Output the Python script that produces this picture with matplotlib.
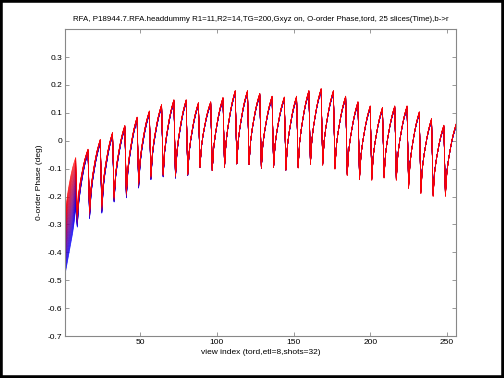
import matplotlib.pyplot as plt
from matplotlib.patches import Rectangle
import numpy as np

# per-shot values (32 shots x 8 echoes = 256 views), red (last slice) reference
peaks = [-0.06, -0.03, 0.005, 0.03, 0.055, 0.085, 0.107, 0.13,
         0.147, 0.147, 0.137, 0.14, 0.155, 0.18, 0.18, 0.17,
         0.16, 0.157, 0.16, 0.18, 0.187, 0.18, 0.16, 0.14,
         0.125, 0.12, 0.125, 0.125, 0.104, 0.08, 0.056, 0.06]
troughs = [-0.30, -0.26, -0.25, -0.23, -0.20, -0.185, -0.15, -0.125,
           -0.12, -0.125, -0.12, -0.095, -0.107, -0.095, -0.083, -0.085,
           -0.098, -0.095, -0.105, -0.098, -0.085, -0.088, -0.102, -0.125,
           -0.14, -0.142, -0.134, -0.142, -0.172, -0.19, -0.20, -0.20]
# rise inside one shot (fraction from trough to peak)
echo_shape = [0.0, 0.33, 0.5, 0.63, 0.75, 0.85, 0.93, 1.0]
# first slice (blue) in the first shot
first_shot_blue = [-0.48, -0.45, -0.42, -0.39, -0.36, -0.33, -0.29, -0.24]
# first slice (blue) minus last slice (red), at trough and at peak of each shot
blue_off_trough = [0.0, -0.05, -0.03, -0.03, -0.02, -0.02, -0.02, -0.015,
                   -0.01, -0.01, -0.005, 0.0, 0.0, 0.0, 0.0, 0.0,
                   0.0, 0.0, 0.0, 0.005, 0.005, 0.005, 0.01, 0.01,
                   0.01, 0.01, 0.01, 0.01, 0.015, 0.015, 0.015, 0.015]
blue_off_peak = [0.0, -0.015, -0.015, -0.012, -0.012, -0.012, -0.012, -0.01,
                 -0.01, -0.01, -0.01, -0.01, -0.01, -0.01, -0.01, -0.01,
                 -0.01, -0.01, -0.01, -0.01, -0.01, -0.01, -0.01, -0.01,
                 -0.01, -0.01, -0.01, -0.01, -0.01, -0.01, -0.01, -0.01]
n_slices = 25

title = ("RFA, P18944.7.RFA.headdummy R1=11,R2=14,TG=200,Gxyz on, "
         "O-order Phase,tord, 25 slices(Time),b->r")

plt.rcParams['font.family'] = ['Liberation Sans', 'DejaVu Sans']

shape = np.array(echo_shape)
red = np.concatenate([t + shape * (p - t) for t, p in zip(troughs, peaks)])
off = np.concatenate([a + shape * (b - a) for a, b in zip(blue_off_trough, blue_off_peak)])
off[:8] = np.array(first_shot_blue) - red[:8]
views = np.arange(1, len(red) + 1)

fig = plt.figure(figsize=(5.04, 3.78), dpi=100)
ax = fig.add_axes([0.129, 0.111, 0.776, 0.812])

for j in range(n_slices):
    t = j / (n_slices - 1)
    ax.plot(views, red + (1 - t) * off, color=(t, 0, 1 - t), lw=0.45)

ax.set_xlim(1, 256)
ax.set_ylim(-0.7, 0.4)
ax.set_xticks([50, 100, 150, 200, 250])
ax.set_yticks(np.round(np.arange(-0.7, 0.31, 0.1), 1))
ax.set_yticklabels(['-0.7', '-0.6', '-0.5', '-0.4', '-0.3', '-0.2', '-0.1', '0', '0.1', '0.2', '0.3'])
ax.tick_params(direction='in', top=True, right=True, length=3, width=0.6,
               color='#888888', labelsize=6, pad=2)
for s in ax.spines.values():
    s.set_color('#888888')
    s.set_linewidth(0.8)

ax.set_title(title, fontsize=5.7, pad=6)
ax.set_xlabel("view index (tord,etl=8,shots=32)", fontsize=6, labelpad=2)
ax.set_ylabel("0-order Phase (deg)", fontsize=6, labelpad=3)

# black frame around the figure
fig.patches.append(Rectangle((0, 0), 1, 1, transform=fig.transFigure,
                             fill=False, edgecolor='black', lw=4, clip_on=False))

fig.savefig("out.png", dpi=100)
